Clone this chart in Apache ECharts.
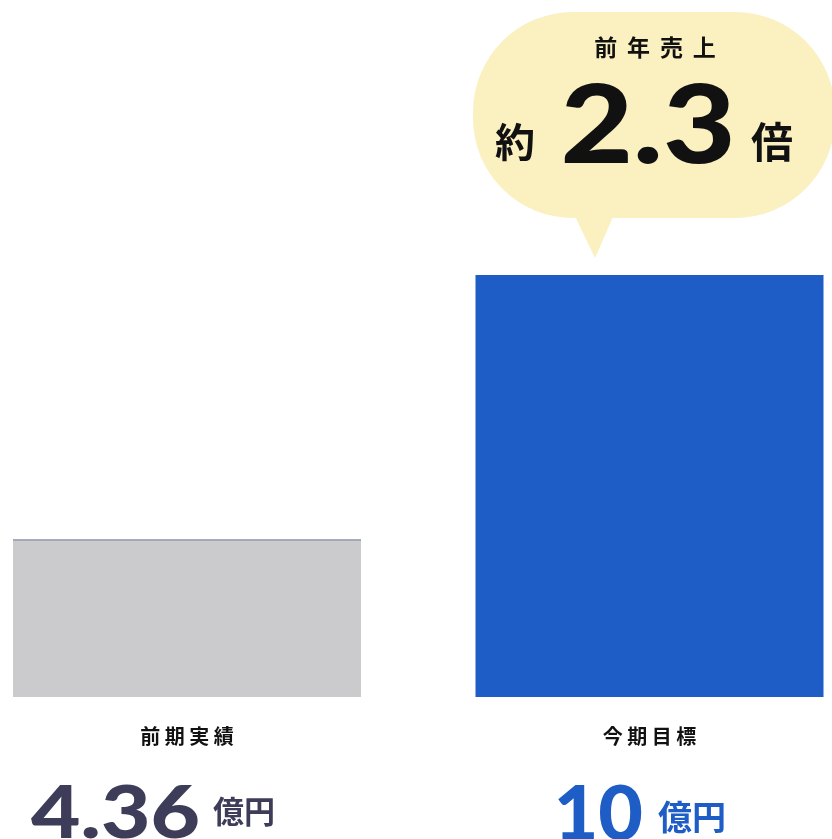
<!DOCTYPE html>
<html><head><meta charset="utf-8">
<script src="https://cdn.jsdelivr.net/npm/echarts@6/dist/echarts.min.js"></script>
<style>html,body{margin:0;padding:0;background:#fff}#c{width:832px;height:839px}</style>
</head><body><div id="c"></div>
<script>
const categories = ['前期実績', '今期目標'];
const values = [4.36, 10];
const valueTexts = ['4.36', '10'];
const unitText = '億円';
const bubbleTitle = '前年売上';
const bubblePrefix = '約';
const bubbleValue = '2.3';
const bubbleSuffix = '倍';
const axisMin = 1;
const axisMax = 10;

const barColors = ['#CBCBCD', '#1E5CC6'];
const numColors = ['#3D3D5A', '#1E5CC6'];
const unitDx = [26, 8.5];
const unitGap = [13, 15];
const unitSize = [31, 34];
const unitDy = [114, 120];
const numSize = [73, 77];
const numScale = [1.17, 1.0];
const numDy = [117, 118];
const jp = '"Noto Sans CJK JP", sans-serif';
const num = 'Lato, "Noto Sans", sans-serif';
const BAR_W = 348;

const chart = echarts.init(document.getElementById('c'), null, {renderer: 'canvas'});
chart.setOption({
  animation: false,
  backgroundColor: '#fff',
  grid: {left: 187, right: 182.5, top: 275, bottom: 142},
  xAxis: {
    type: 'category', data: categories, boundaryGap: false,
    axisLine: {show: false}, axisTick: {show: false},
    axisLabel: {
      margin: 29, fontSize: 20, fontWeight: 'bold', color: '#111', fontFamily: jp,
      formatter: v => v.split('').join(' ')
    }
  },
  yAxis: {type: 'value', min: axisMin, max: axisMax, show: false, splitLine: {show: false}},
  series: [{
    type: 'custom', clip: false,
    data: values.map((v, i) => [i, v]),
    renderItem: (params, api) => {
      const i = params.dataIndex;
      const top = api.coord([api.value(0), api.value(1)]);
      const base = api.coord([api.value(0), axisMin]);
      const children = [{
        type: 'rect',
        shape: {x: top[0] - BAR_W / 2, y: top[1], width: BAR_W, height: base[1] - top[1]},
        style: {fill: barColors[i]}
      }];
      if (i === 0) {
        children.push({type: 'line',
          shape: {x1: top[0] - BAR_W / 2, y1: top[1] + 0.5, x2: top[0] + BAR_W / 2, y2: top[1] + 0.5},
          style: {stroke: '#6F7F9F', lineWidth: 1}});
      }
      const ux = top[0] + unitDx[i];
      children.push({
        type: 'text', x: ux - unitGap[i], y: base[1] + numDy[i], scaleX: numScale[i],
        style: {text: valueTexts[i], x: 0, y: 0, align: 'right', verticalAlign: 'middle',
          font: '900 ' + numSize[i] + 'px ' + num, fill: numColors[i]}
      });
      children.push({
        type: 'text', x: ux, y: base[1] + unitDy[i],
        style: {text: unitText, x: 0, y: 0, align: 'left', verticalAlign: 'middle',
          font: 'bold ' + unitSize[i] + 'px ' + jp, fill: numColors[i]}
      });
      return {type: 'group', children};
    }
  }],
  graphic: [
    {type: 'rect', shape: {x: 473, y: 12, width: 362, height: 206, r: 100}, style: {fill: '#FAF0C0'}},
    {type: 'polygon', shape: {points: [[572, 210], [616, 210], [595, 258]]}, style: {fill: '#FAF0C0'}},
    {type: 'text', style: {text: bubbleTitle.split('').join(' \u2009'), x: 655, y: 47, align: 'center', verticalAlign: 'middle',
      font: 'bold 23px ' + jp, fill: '#111'}},
    {type: 'text', style: {text: bubblePrefix, x: 515, y: 142, align: 'center', verticalAlign: 'middle',
      font: 'bold 40px ' + jp, fill: '#111'}},
    {type: 'text', x: 648, y: 128, scaleX: 1.16, style: {text: bubbleValue, x: 0, y: 0, align: 'center', verticalAlign: 'middle',
      font: '900 108px ' + num, fill: '#111'}},
    {type: 'text', style: {text: bubbleSuffix, x: 772, y: 142, align: 'center', verticalAlign: 'middle',
      font: 'bold 42px ' + jp, fill: '#111'}}
  ]
});
</script></body></html>
